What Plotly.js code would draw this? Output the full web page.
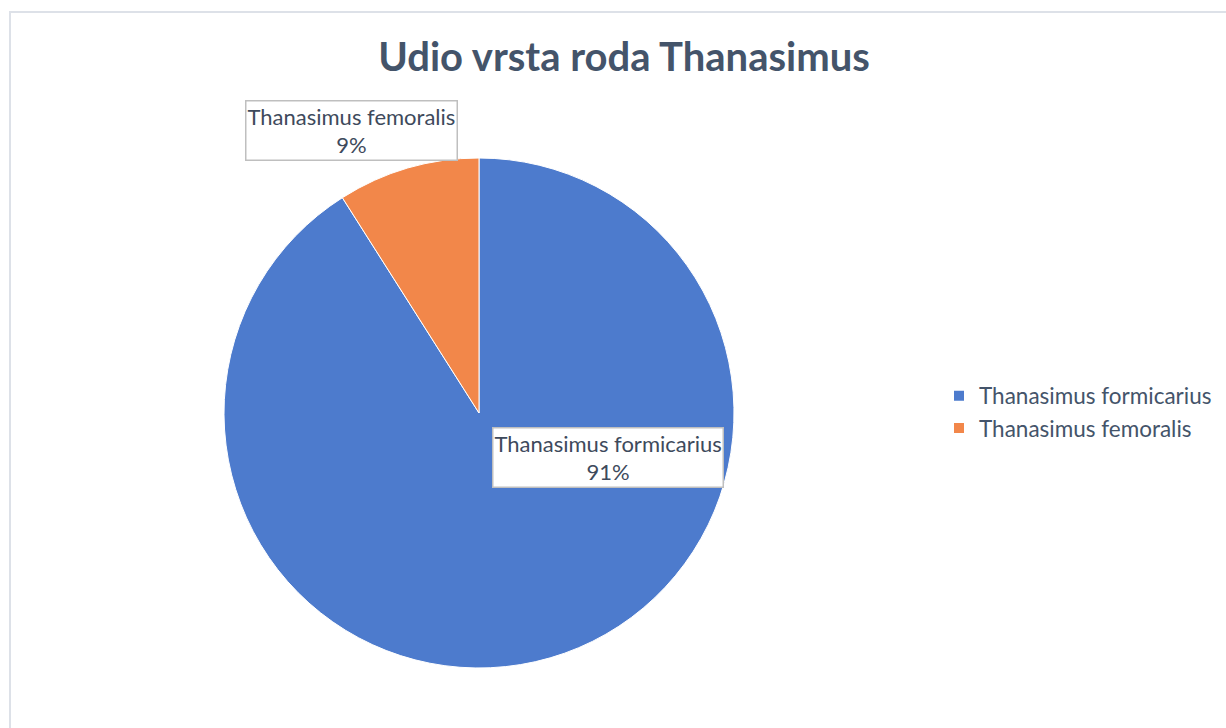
<!DOCTYPE html>
<html>
<head>
<meta charset="utf-8">
<script src="https://cdn.plot.ly/plotly-3.0.1.min.js"></script>
<style>html,body{margin:0;padding:0;background:#fff;}#chart{width:1226px;height:728px;}</style>
</head>
<body>
<div id="chart"></div>
<script>
const titleText = "Udio vrsta roda Thanasimus";
const speciesLabels = ["Thanasimus formicarius", "Thanasimus femoralis"];
const speciesValues = [91, 9];
const sliceColors = ["#4d7bcd", "#f2874a"];

const W = 1226, H = 728;
const px = x => x / W;
const py = y => 1 - y / H;
const total = speciesValues.reduce((a, b) => a + b, 0);
const pct = speciesValues.map(v => Math.round(v / total * 100) + "%");

const labelPos = [[608, 457], [352, 130]];
const annotations = speciesLabels.map((lab, i) => ({
  text: lab + "<br>" + pct[i],
  x: px(labelPos[i][0]), y: py(labelPos[i][1]),
  xref: "paper", yref: "paper", showarrow: false,
  xanchor: "center", yanchor: "middle",
  font: {family: "Lato, 'Open Sans', sans-serif", size: 22, color: "#3e4a5c"},
  bgcolor: "#ffffff", bordercolor: "#bfbfbf", borderwidth: 1.5, borderpad: 1
}));

const data = [{
  type: "pie",
  labels: speciesLabels,
  values: speciesValues,
  sort: false,
  direction: "clockwise",
  rotation: 0,
  textinfo: "none",
  marker: {colors: sliceColors, line: {color: "#ffffff", width: 1}},
  domain: {x: [px(224), px(734)], y: [py(668), py(158)]}
}];

const layout = {
  width: W, height: H,
  margin: {l: 0, r: 0, t: 0, b: 0},
  paper_bgcolor: "#ffffff",
  title: {
    text: "<b>" + titleText + "</b>",
    x: px(624), xanchor: "center", y: py(57), yanchor: "middle",
    font: {family: "Lato, 'Open Sans', sans-serif", size: 40, color: "#44546a"}
  },
  showlegend: true,
  legend: {
    x: px(939), y: py(412), xanchor: "left", yanchor: "middle",
    font: {family: "Lato, 'Open Sans', sans-serif", size: 22.5, color: "#44546a"},
    itemsizing: "constant", bgcolor: "rgba(0,0,0,0)"
  },
  annotations: annotations,
  shapes: [{
    type: "rect", xref: "paper", yref: "paper",
    x0: px(10), x1: px(1240), y0: py(740), y1: py(12),
    line: {color: "#dde1e8", width: 2}, fillcolor: "rgba(0,0,0,0)"
  }]
};

Plotly.newPlot("chart", data, layout, {displayModeBar: false, staticPlot: true});
</script>
</body>
</html>
